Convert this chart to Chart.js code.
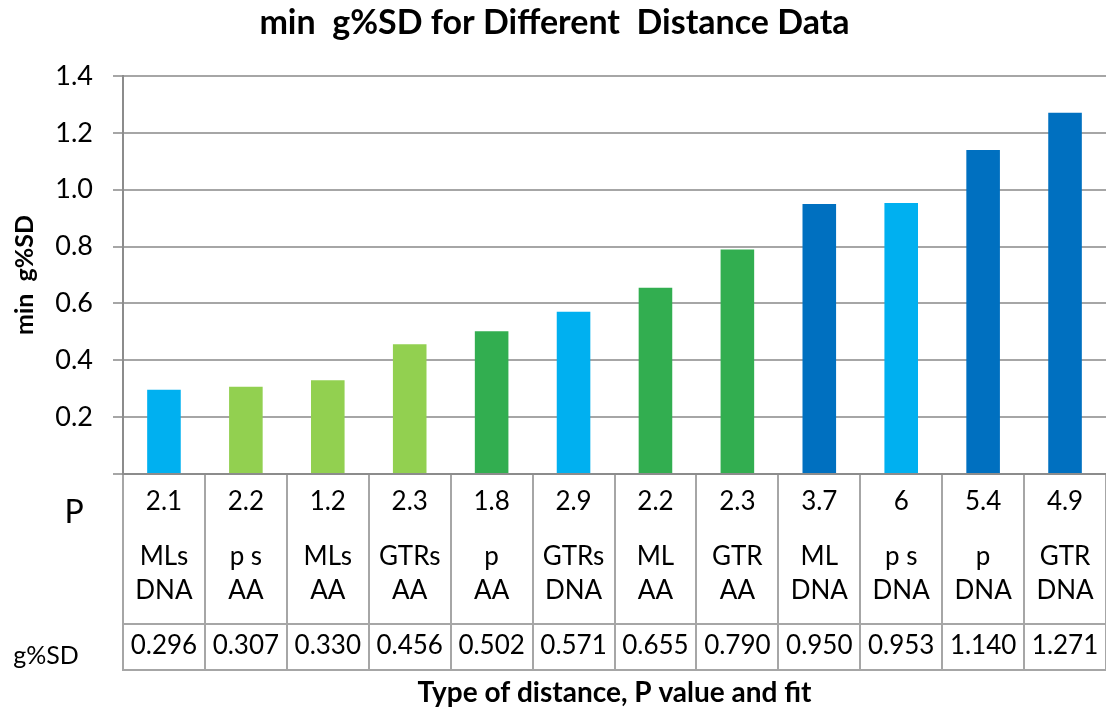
<!DOCTYPE html>
<html>
<head>
<meta charset="utf-8">
<script src="https://cdn.jsdelivr.net/npm/chart.js@4.4.1/dist/chart.umd.min.js"></script>
<style>
  html, body { margin: 0; padding: 0; background: #fff; }
</style>
</head>
<body>
<canvas id="chart" width="1106" height="708"></canvas>
<script>
// table rows under the bars
const pValues = ["2.1", "2.2", "1.2", "2.3", "1.8", "2.9", "2.2", "2.3", "3.7", "6", "5.4", "4.9"];
const distances = ["MLs", "p s", "MLs", "GTRs", "p", "GTRs", "ML", "GTR", "ML", "p s", "p", "GTR"];
const fits = ["DNA", "AA", "AA", "AA", "AA", "DNA", "AA", "AA", "DNA", "DNA", "DNA", "DNA"];
const minGsd = [0.296, 0.307, 0.330, 0.456, 0.502, 0.571, 0.655, 0.790, 0.950, 0.953, 1.140, 1.271];

const LBLUE = "#00b0f0", LGREEN = "#92d050", GREEN = "#32ae50", DBLUE = "#0070c0";
const barColors = [LBLUE, LGREEN, LGREEN, LGREEN, GREEN, LBLUE, GREEN, GREEN, DBLUE, LBLUE, DBLUE, DBLUE];

const FONT = "Lato";
const GRID = "#a6a6a6";
const AXIS = "#8c8c8c";

const labels = distances.map((d, i) => d + " " + fits[i]);

const tablePlugin = {
  id: "distanceTable",
  afterDraw(chart) {
    const { ctx, chartArea } = chart;
    const xs = chart.scales.x;
    const b = chartArea.bottom;
    ctx.save();
    ctx.strokeStyle = GRID;
    ctx.lineWidth = 2;
    [150, 196].forEach((dy) => {
      ctx.beginPath();
      ctx.moveTo(chartArea.left - 1, b + dy);
      ctx.lineTo(chartArea.right, b + dy);
      ctx.stroke();
    });

    ctx.fillStyle = "#000";
    ctx.textAlign = "center";
    ctx.textBaseline = "middle";
    ctx.font = "26px " + FONT;
    pValues.forEach((p, i) => {
      const x = xs.getPixelForValue(i);
      ctx.fillText(p, x, b + 28);
      ctx.fillText(distances[i], x, b + 83);
      ctx.fillText(fits[i], x, b + 117);
      ctx.fillText(minGsd[i].toFixed(3), x, b + 172);
    });

    // row headings
    ctx.font = "32px " + FONT;
    ctx.fillText("P", 74, b + 39);
    ctx.font = "25px " + FONT;
    ctx.fillText("g%SD", 46, b + 182);
    ctx.restore();
  }
};

new Chart(document.getElementById("chart"), {
  type: "bar",
  data: {
    labels: labels,
    datasets: [{
      data: minGsd,
      backgroundColor: barColors,
      barPercentage: 0.41,
      categoryPercentage: 1
    }]
  },
  options: {
    responsive: false,
    animation: false,
    layout: { padding: { left: 0, right: -3, top: 0, bottom: 0 } },
    plugins: {
      legend: { display: false },
      tooltip: { enabled: false },
      title: {
        display: true,
        text: "min  g%SD for Different  Distance Data",
        color: "#000",
        font: { family: FONT, size: 34, weight: "bold", lineHeight: 1.2 },
        padding: { top: 3, bottom: 32.2 }
      }
    },
    scales: {
      x: {
        grid: { drawOnChartArea: false, drawTicks: true, tickLength: 196, color: GRID, lineWidth: 2, offset: true },
        border: { color: AXIS, width: 2 },
        ticks: { display: false },
        title: {
          display: true,
          text: "Type of distance, P value and fit",
          color: "#000",
          font: { family: FONT, size: 28, weight: "bold", lineHeight: 1 },
          padding: { top: 9, bottom: 1 }
        }
      },
      y: {
        min: 0,
        max: 1.4,
        ticks: {
          stepSize: 0.2,
          color: "#000",
          padding: 20,
          font: { family: FONT, size: 27 },
          callback: (v) => (v === 0 ? "" : v.toFixed(1))
        },
        grid: { color: GRID, lineWidth: 2, tickLength: 10 },
        border: { color: AXIS, width: 2 },
        title: {
          display: true,
          text: "min  g%SD",
          color: "#000",
          font: { family: FONT, size: 25, weight: "bold", lineHeight: 1.2 },
          padding: { top: 10 }
        },
        afterFit: (s) => { s.width = 123; }
      }
    }
  },
  plugins: [tablePlugin]
});
</script>
</body>
</html>
